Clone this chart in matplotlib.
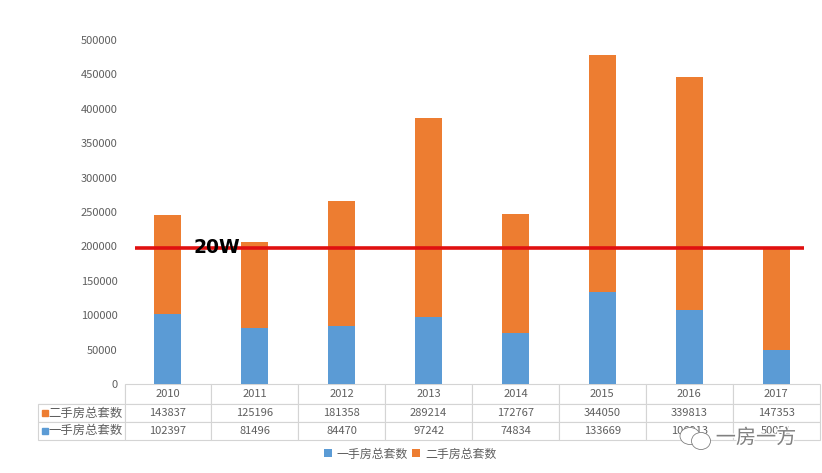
import matplotlib.pyplot as plt
import matplotlib.patheffects as pe
from matplotlib.patches import Ellipse

plt.rcParams['font.family'] = ['Noto Sans CJK SC', 'DejaVu Sans']

years = ['2010', '2011', '2012', '2013', '2014', '2015', '2016', '2017']
first_hand = [102397, 81496, 84470, 97242, 74834, 133669, 106913, 50051]
second_hand = [143837, 125196, 181358, 289214, 172767, 344050, 339813, 147353]
first_label = '一手房总套数'
second_label = '二手房总套数'
line_value = 198000

W, H = 822, 473
text_color = '#5f5f5f'
grid_color = '#d4d4d4'
blue = '#5b9bd5'
orange = '#ed7d31'

fig = plt.figure(figsize=(W / 100, H / 100), dpi=100)
ax_w = 695
ax = fig.add_axes([124.5 / W, 1 - 384 / H, ax_w / W, 344 / H])

x = list(range(len(years)))
ax.bar(x, first_hand, width=0.31, color=blue, label=first_label, zorder=2)
ax.bar(x, second_hand, width=0.31, bottom=first_hand, color=orange, label=second_label, zorder=2)

ax.set_xlim(-0.5, 7.5)
ax.set_ylim(0, 500000)
ax.set_yticks(range(0, 500001, 50000))
ax.set_xticks([])
ax.tick_params(axis='y', length=0, labelsize=8, labelcolor=text_color, pad=5)
for s in ['top', 'right', 'left', 'bottom']:
    ax.spines[s].set_visible(False)

# red reference line
ax.plot([-0.38, 7.32], [line_value, line_value], color='#e01010', linewidth=2.6, zorder=3, solid_capstyle='butt')
ax.text(0.565, line_value, '20W', fontsize=13.5, fontweight='bold', color='black',
        ha='center', va='center', zorder=4, family='DejaVu Sans')

# data table under the axis, first column holds the row labels
rows = [[''] + years,
        [second_label] + [str(v) for v in second_hand],
        [first_label] + [str(v) for v in first_hand]]
left_w = 87
col_w = ax_w / len(years)
tb = ax.table(cellText=rows, colWidths=[left_w / ax_w] + [col_w / ax_w] * len(years), cellLoc='center',
              bbox=[-left_w / ax_w, -55.5 / 344, (left_w + ax_w) / ax_w, 55.5 / 344])
tb.auto_set_font_size(False)
tb.set_fontsize(8)
for (r, c), cell in tb.get_celld().items():
    cell.set_edgecolor(grid_color)
    cell.set_linewidth(0.8)
    cell.get_text().set_color(text_color)
    cell.PAD = 0.02
    cell.set_height({0: 20, 1: 18, 2: 17.5}[r] / 344)
    if c == 0:
        cell.get_text().set_fontsize(8.9)
        cell.set_text_props(ha='right')
        cell._loc = 'right'
    if r == 0 and c == 0:
        cell.visible_edges = 'BR'

# row label colour keys
fig.add_artist(plt.Line2D([44.5 / W], [1 - 413 / H], marker='s', ms=5, color=orange, linestyle=''))
fig.add_artist(plt.Line2D([44.5 / W], [1 - 431 / H], marker='s', ms=5, color=blue, linestyle=''))

# legend
handles, labels = ax.get_legend_handles_labels()
fig.legend(handles, labels, loc='center', bbox_to_anchor=(410 / W, 1 - 454 / H), ncol=2, frameon=False,
           fontsize=8.6, labelcolor=text_color, handlelength=0.65, handleheight=0.65,
           handletextpad=0.4, columnspacing=0.4, borderpad=0)

# watermark
wm_color = '#808080'
fig.add_artist(Ellipse((690 / W, 1 - 436 / H), 20 / W, 17 / H, facecolor='white', edgecolor=wm_color, linewidth=0.6))
fig.add_artist(Ellipse((701 / W, 1 - 441 / H), 19 / W, 17 / H, facecolor='white', edgecolor=wm_color, linewidth=0.6))
fig.text(756 / W, 1 - 438 / H, '一房一方', fontsize=14.5, color=wm_color, ha='center', va='center',
         fontweight='light', path_effects=[pe.withStroke(linewidth=2, foreground='white')])

fig.savefig('out.png', dpi=100)
